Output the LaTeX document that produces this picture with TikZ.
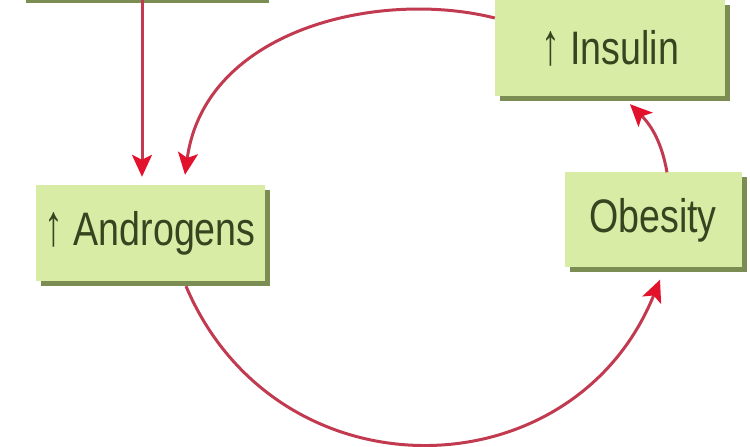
\documentclass[tikz,border=0pt]{standalone}
\usepackage{fontspec}
\setmainfont{Liberation Sans}[FakeStretch=0.8]
\usetikzlibrary{arrows.meta,shadows}
\definecolor{boxfill}{HTML}{D8ECA6}
\definecolor{boxshade}{HTML}{7B8D52}
\definecolor{boxtext}{HTML}{36451F}
\definecolor{linered}{HTML}{C23A50}
\definecolor{tipred}{HTML}{E3122C}
\newcommand{\uparr}{\scalebox{1}[1.25]{↑}}
\begin{document}
\begin{tikzpicture}[x=1pt,y=1pt,
  factor/.style={rectangle, fill=boxfill, text=boxtext, inner sep=0pt,
    font=\fontsize{47}{50}\selectfont,
    drop shadow={shadow xshift=5pt, shadow yshift=-5pt, fill=boxshade, opacity=1}},
  link/.style={draw=linered, line width=3pt,
    -{Stealth[length=22pt,width=20pt,inset=5pt,color=tipred]}}]
\useasboundingbox (0,0) rectangle (750,447);
\node[factor, minimum width=243pt, minimum height=98pt] (top) at (142,498) {};
\node[factor, minimum width=229pt, minimum height=96pt] (andro) at (150,214) {\uparr\ Androgens};
\node[factor, minimum width=230pt, minimum height=96pt] (insulin) at (610,399) {\uparr\ Insulin};
\node[factor, minimum width=177pt, minimum height=95pt] (obesity) at (653,227) {Obesity};
\draw[link, shorten >=8pt] (top.south) -- (top.south |- andro.north);
\draw[link] ([yshift=30pt]insulin.west) .. controls +(-115,29) and +(20,146) .. ([xshift=35pt,yshift=10pt]andro.north);
\draw[link] ([xshift=36pt,yshift=-5pt]andro.south) to[out=293,in=248,looseness=1.25] ([xshift=7pt,yshift=-12pt]obesity.south);
\draw[link] ([xshift=14pt]obesity.north) to[out=100,in=-45] ([xshift=20pt,yshift=-8pt]insulin.south);
\end{tikzpicture}
\end{document}
